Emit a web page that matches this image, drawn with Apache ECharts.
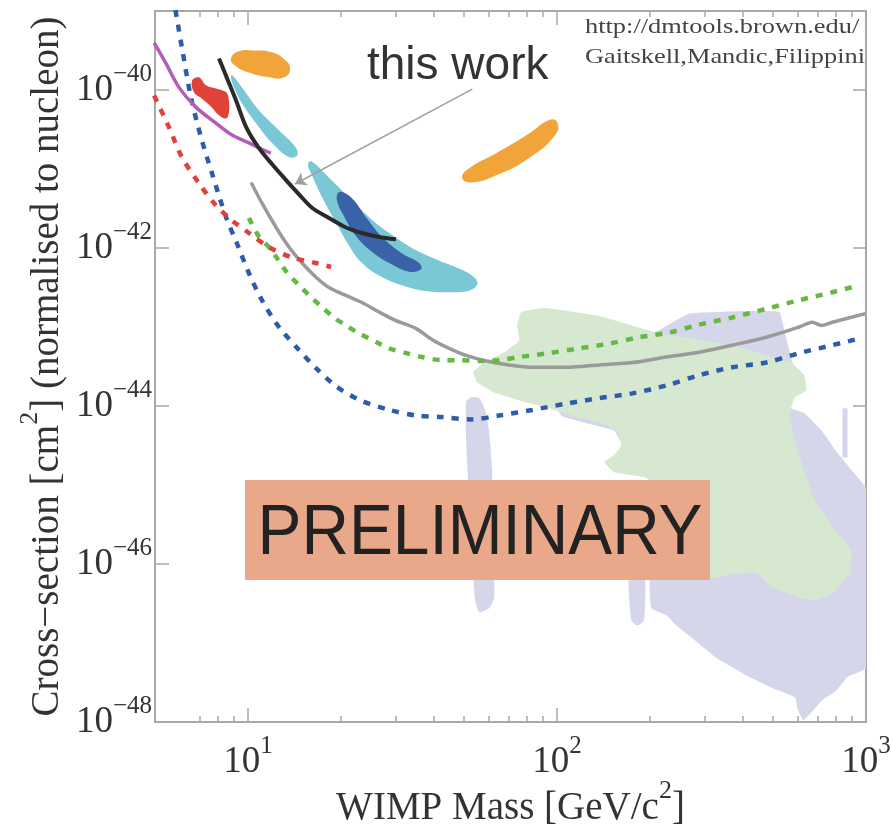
<!DOCTYPE html>
<html>
<head>
<meta charset="utf-8">
<script src="https://cdn.jsdelivr.net/npm/echarts@6/dist/echarts.min.js"></script>
<style>
html, body { margin: 0; padding: 0; background: #fff; }
#chart { width: 892px; height: 828px; }
</style>
</head>
<body>
<div id="chart"></div>
<script>
// every point is [log10(mass / GeV), log10(cross-section / cm^2)]
var xTicks = [1, 2, 3];
var xMinorMass = [7, 8, 9, 20, 30, 40, 50, 60, 70, 80, 90, 200, 300, 400, 500, 600, 700, 800, 900];
var yTicks = [-48, -46, -44, -42, -40];

var blueDotted = [[0.757,-38.80],[0.767,-39.03],[0.786,-39.46],[0.815,-40.09],[0.848,-40.60],[0.883,-41.05],[0.929,-41.61],[0.964,-41.94],[1.003,-42.32],[1.045,-42.66],[1.100,-43.00],[1.165,-43.29],[1.220,-43.52],[1.285,-43.75],[1.359,-43.92],[1.457,-44.05],[1.544,-44.12],[1.628,-44.14],[1.722,-44.17],[1.813,-44.12],[1.920,-44.05],[2.030,-43.97],[2.137,-43.90],[2.244,-43.84],[2.354,-43.74],[2.460,-43.61],[2.567,-43.51],[2.677,-43.45],[2.784,-43.33],[2.891,-43.23],[2.985,-43.14]];
var redDotted = [[0.696,-40.07],[0.744,-40.47],[0.786,-40.85],[0.841,-41.18],[0.896,-41.46],[0.948,-41.65],[1.003,-41.81],[1.068,-41.99],[1.142,-42.12],[1.220,-42.19],[1.269,-42.24]];
var greenDotted = [[1.003,-41.62],[1.036,-41.86],[1.068,-41.99],[1.094,-42.13],[1.126,-42.31],[1.165,-42.47],[1.198,-42.60],[1.240,-42.75],[1.278,-42.88],[1.317,-42.98],[1.359,-43.08],[1.415,-43.19],[1.457,-43.27],[1.512,-43.33],[1.563,-43.38],[1.628,-43.42],[1.674,-43.42],[1.758,-43.43],[1.813,-43.42],[1.878,-43.38],[1.975,-43.33],[2.072,-43.27],[2.169,-43.21],[2.266,-43.13],[2.363,-43.07],[2.460,-42.97],[2.567,-42.88],[2.677,-42.77],[2.784,-42.66],[2.891,-42.56],[2.979,-42.47]];
var grayLimit = [[1.010,-41.17],[1.045,-41.43],[1.091,-41.74],[1.133,-41.99],[1.175,-42.19],[1.220,-42.37],[1.262,-42.50],[1.317,-42.60],[1.369,-42.69],[1.424,-42.81],[1.479,-42.92],[1.544,-43.02],[1.596,-43.16],[1.651,-43.27],[1.706,-43.36],[1.771,-43.43],[1.845,-43.48],[1.920,-43.51],[2.030,-43.51],[2.137,-43.48],[2.244,-43.45],[2.354,-43.38],[2.460,-43.32],[2.567,-43.23],[2.677,-43.13],[2.784,-43.00],[2.826,-42.94],[2.856,-42.98],[2.891,-42.94],[2.998,-42.83]];
var thisWork = [[0.906,-39.60],[0.932,-39.85],[0.961,-40.13],[0.994,-40.47],[1.036,-40.74],[1.078,-40.94],[1.123,-41.14],[1.165,-41.32],[1.207,-41.49],[1.262,-41.62],[1.317,-41.74],[1.369,-41.81],[1.424,-41.86],[1.479,-41.89]];
var purpleLimit = [[0.696,-39.40],[0.734,-39.66],[0.777,-39.97],[0.832,-40.22],[0.896,-40.42],[0.948,-40.57],[1.003,-40.67],[1.045,-40.75],[1.074,-40.80]];
var arrowLine = [[1.726,-39.99],[1.152,-41.19]];

var orangeA = [[0.945,-39.60],[0.971,-39.51],[1.019,-39.50],[1.074,-39.52],[1.117,-39.61],[1.136,-39.73],[1.117,-39.84],[1.068,-39.84],[1.003,-39.78],[0.958,-39.69]];
var orangeB = [[1.693,-41.11],[1.716,-40.99],[1.803,-40.80],[1.910,-40.55],[1.975,-40.38],[2.001,-40.41],[1.994,-40.57],[1.910,-40.86],[1.803,-41.08],[1.725,-41.17]];
var redRegion = [[0.819,-39.88],[0.841,-39.84],[0.864,-39.94],[0.896,-39.98],[0.929,-40.03],[0.938,-40.13],[0.938,-40.29],[0.929,-40.36],[0.906,-40.32],[0.883,-40.22],[0.851,-40.11],[0.825,-40.03]];
var cyanA = [[0.948,-39.81],[0.981,-39.97],[1.036,-40.26],[1.100,-40.51],[1.155,-40.73],[1.159,-40.83],[1.133,-40.85],[1.078,-40.67],[1.026,-40.42],[0.981,-40.17],[0.955,-39.97],[0.945,-39.85]];
var cyanB = [[1.204,-40.90],[1.262,-41.11],[1.327,-41.36],[1.392,-41.61],[1.457,-41.81],[1.544,-42.03],[1.619,-42.16],[1.683,-42.26],[1.732,-42.37],[1.742,-42.46],[1.716,-42.54],[1.651,-42.56],[1.586,-42.55],[1.521,-42.50],[1.434,-42.37],[1.369,-42.19],[1.327,-41.97],[1.285,-41.68],[1.240,-41.36],[1.207,-41.08],[1.194,-40.95]];
var blueCore = [[1.295,-41.29],[1.334,-41.36],[1.382,-41.61],[1.434,-41.86],[1.499,-42.07],[1.554,-42.19],[1.560,-42.27],[1.521,-42.30],[1.457,-42.19],[1.402,-42.05],[1.350,-41.85],[1.311,-41.60],[1.288,-41.40]];
var greenRegion = [[1.884,-42.81],[1.959,-42.76],[2.040,-42.80],[2.137,-42.86],[2.234,-42.97],[2.331,-43.08],[2.428,-43.14],[2.525,-43.21],[2.606,-43.27],[2.687,-43.37],[2.758,-43.45],[2.800,-43.61],[2.807,-43.80],[2.768,-43.90],[2.752,-44.12],[2.768,-44.43],[2.800,-44.81],[2.833,-45.19],[2.888,-45.51],[2.953,-45.83],[2.947,-46.12],[2.891,-46.37],[2.836,-46.46],[2.784,-46.42],[2.703,-46.31],[2.645,-46.11],[2.574,-46.12],[2.499,-46.18],[2.460,-46.14],[2.396,-45.70],[2.347,-45.19],[2.315,-44.94],[2.266,-44.89],[2.185,-44.84],[2.153,-44.71],[2.185,-44.62],[2.208,-44.50],[2.195,-44.31],[2.137,-44.21],[2.056,-44.13],[1.975,-44.03],[1.878,-43.93],[1.797,-43.83],[1.742,-43.70],[1.729,-43.57],[1.764,-43.45],[1.829,-43.32],[1.878,-43.17],[1.871,-42.98]];
var lavenderMain = [[2.428,-42.83],[2.590,-42.80],[2.720,-42.81],[2.736,-43.04],[2.762,-43.45],[2.778,-43.70],[2.736,-43.99],[2.800,-44.09],[2.856,-44.31],[2.907,-44.59],[2.953,-44.81],[3.0,-45.04],[3.0,-47.32],[2.940,-47.43],[2.904,-47.60],[2.856,-47.73],[2.823,-47.88],[2.797,-47.98],[2.778,-47.83],[2.771,-47.69],[2.697,-47.57],[2.613,-47.41],[2.516,-47.19],[2.438,-46.94],[2.386,-46.78],[2.354,-46.65],[2.305,-46.56],[2.299,-46.21],[2.299,-44.94],[2.240,-44.81],[2.201,-44.66],[2.211,-44.50],[2.185,-44.31],[2.098,-44.22],[2.017,-44.13],[1.991,-43.99],[1.959,-43.90],[1.936,-43.74],[2.007,-43.55],[2.201,-43.23],[2.331,-43.04]];
var lavenderLeft = [[1.706,-43.95],[1.722,-43.89],[1.748,-43.90],[1.767,-44.05],[1.780,-44.31],[1.790,-44.81],[1.793,-45.57],[1.797,-46.42],[1.780,-46.56],[1.748,-46.61],[1.735,-46.46],[1.725,-45.95],[1.712,-44.94],[1.706,-44.43]];
var lavenderSmall = [[2.234,-46.08],[2.282,-46.08],[2.282,-46.71],[2.260,-46.78],[2.240,-46.71]];
var lavenderThin = [[2.924,-44.03],[2.940,-44.03],[2.940,-44.65],[2.924,-44.65]];

var serif = "'Liberation Serif', 'DejaVu Serif', serif";
var sans = "'Liberation Sans', Arial, sans-serif";
var axisGray = '#a8a8a8';

function areaSeries(pts, color, smooth) {
  return {
    type: 'custom', silent: true, clip: true, z: 2,
    data: pts,
    renderItem: function (params, api) {
      if (params.dataIndex !== 0) return null;
      return {
        type: 'polygon',
        shape: { points: pts.map(function (p) { return api.coord(p); }), smooth: smooth },
        style: { fill: color }
      };
    }
  };
}

function lineSeries(pts, color, width, dotted) {
  return {
    type: 'line', data: pts, symbol: 'none', showSymbol: false, smooth: 0.3, silent: true, z: 3,
    lineStyle: { color: color, width: width, type: dotted ? [7, 8] : 'solid', cap: 'butt' }
  };
}

var tickRich = {
  b: { fontSize: 37, fontFamily: serif, color: '#333', lineHeight: 56, verticalAlign: 'middle' },
  s: { fontSize: 25, fontFamily: serif, color: '#333', lineHeight: 22, verticalAlign: 'top' }
};
var nameRich = {
  t: { fontSize: 39, fontFamily: serif, color: '#333', lineHeight: 50, verticalAlign: 'bottom' },
  s: { fontSize: 26, fontFamily: serif, color: '#333', lineHeight: 24, verticalAlign: 'top' }
};

var minorVals = xMinorMass.map(function (m) { return Math.log10(m); });
var xMin = Math.log10(5);

function xAxisDef(pos, vals, len, withLine, withLabel) {
  return {
    type: 'value', min: xMin, max: 3, position: pos, gridIndex: 0,
    splitLine: { show: false },
    axisLine: { show: withLine, onZero: false, lineStyle: { color: axisGray, width: 2 } },
    axisTick: { show: true, inside: true, length: len, customValues: vals, lineStyle: { color: axisGray, width: 1.5 } },
    axisLabel: withLabel ? {
      show: true, customValues: xTicks, margin: 12,
      formatter: function (v) { return '{b|10}{s|' + Math.round(v) + '}'; },
      rich: tickRich
    } : { show: false }
  };
}

var chart = echarts.init(document.getElementById('chart'));

var xMain = xAxisDef('bottom', xTicks, 14, true, true);
xMain.name = '{t|WIMP Mass [GeV/c}{s|2}{t|]}';
xMain.nameLocation = 'middle';
xMain.nameGap = 56;
xMain.nameMoveOverlap = false;
xMain.nameTextStyle = { rich: nameRich };

var option = {
  animation: false,
  backgroundColor: '#fff',
  grid: { left: 155, right: 26, top: 11, bottom: 106, containLabel: false, outerBoundsMode: 'none' },
  xAxis: [
    xMain,
    xAxisDef('bottom', minorVals, 6, false, false),
    xAxisDef('top', xTicks, 14, true, false),
    xAxisDef('top', minorVals, 6, false, false)
  ],
  yAxis: [
    {
      type: 'value', min: -48, max: -39, position: 'left',
      name: '{t|Cross\u2212section [cm}{s|2}{t|] (normalised to nucleon)}',
      nameLocation: 'middle', nameGap: 88, nameRotate: 90, nameMoveOverlap: false,
      nameTextStyle: { rich: nameRich },
      splitLine: { show: false },
      axisLine: { show: true, onZero: false, lineStyle: { color: axisGray, width: 2 } },
      axisTick: { show: true, inside: true, length: 14, customValues: yTicks, lineStyle: { color: axisGray, width: 1.5 } },
      axisLabel: {
        customValues: yTicks, margin: 3,
        formatter: function (v) { return '{b|10}{s|\u2212' + Math.abs(Math.round(v)) + '}'; },
        rich: tickRich
      }
    },
    {
      type: 'value', min: -48, max: -39, position: 'right',
      splitLine: { show: false },
      axisLine: { show: true, onZero: false, lineStyle: { color: axisGray, width: 2 } },
      axisTick: { show: true, inside: true, length: 13, customValues: yTicks, lineStyle: { color: axisGray, width: 1.5 } },
      axisLabel: { show: false }
    }
  ],
  series: [
    areaSeries(lavenderMain, '#d6d6eb', 0.1),
    areaSeries(lavenderLeft, '#d6d6eb', 0.2),
    areaSeries(lavenderSmall, '#d6d6eb', 0.2),
    areaSeries(lavenderThin, '#d6d6eb', 0),
    areaSeries(greenRegion, '#d6e8d0', 0.1),
    areaSeries(cyanA, '#7ac8d6', 0.4),
    areaSeries(cyanB, '#7ac8d6', 0.4),
    areaSeries(blueCore, '#3a62a8', 0.4),
    areaSeries(orangeA, '#f0a43a', 0.5),
    areaSeries(orangeB, '#f0a43a', 0.5),
    areaSeries(redRegion, '#e0423a', 0.4),
    lineSeries(grayLimit, '#9a9a9a', 3.5, false),
    lineSeries(greenDotted, '#66b844', 4.5, true),
    lineSeries(blueDotted, '#2e5ca8', 4.5, true),
    lineSeries(redDotted, '#e2403a', 4.5, true),
    lineSeries(purpleLimit, '#b45cb8', 3.5, false),
    lineSeries(thisWork, '#2a2a2a', 4, false),
    {
      type: 'lines', coordinateSystem: 'cartesian2d', silent: true, z: 4,
      symbol: ['none', 'arrow'], symbolSize: 11,
      lineStyle: { color: '#a0a0a0', width: 1.5, opacity: 1, curveness: 0 },
      data: [{ coords: arrowLine }]
    }
  ],
  graphic: [
    { type: 'rect', z: 100, shape: { x: 245, y: 480, width: 465, height: 100 }, style: { fill: '#e9a88a' } },
    { type: 'text', z: 101, x: 480, y: 535, scaleX: 0.94,
      style: { text: 'PRELIMINARY', font: '70px ' + sans, fill: '#222', align: 'center', verticalAlign: 'middle', textAlign: 'center', textVerticalAlign: 'middle' } },
    { type: 'text', z: 101, x: 367, y: 66,
      style: { text: 'this work', font: '46px ' + sans, fill: '#333', align: 'left', verticalAlign: 'middle', textAlign: 'left', textVerticalAlign: 'middle' } },
    { type: 'text', z: 101, x: 585, y: 27, scaleX: 1.2,
      style: { text: 'http://dmtools.brown.edu/', font: '22px ' + serif, fill: '#444', align: 'left', verticalAlign: 'middle', textAlign: 'left', textVerticalAlign: 'middle' } },
    { type: 'text', z: 101, x: 585, y: 57, scaleX: 1.2,
      style: { text: 'Gaitskell,Mandic,Filippini', font: '22px ' + serif, fill: '#444', align: 'left', verticalAlign: 'middle', textAlign: 'left', textVerticalAlign: 'middle' } }
  ]
};

chart.setOption(option);
</script>
</body>
</html>
